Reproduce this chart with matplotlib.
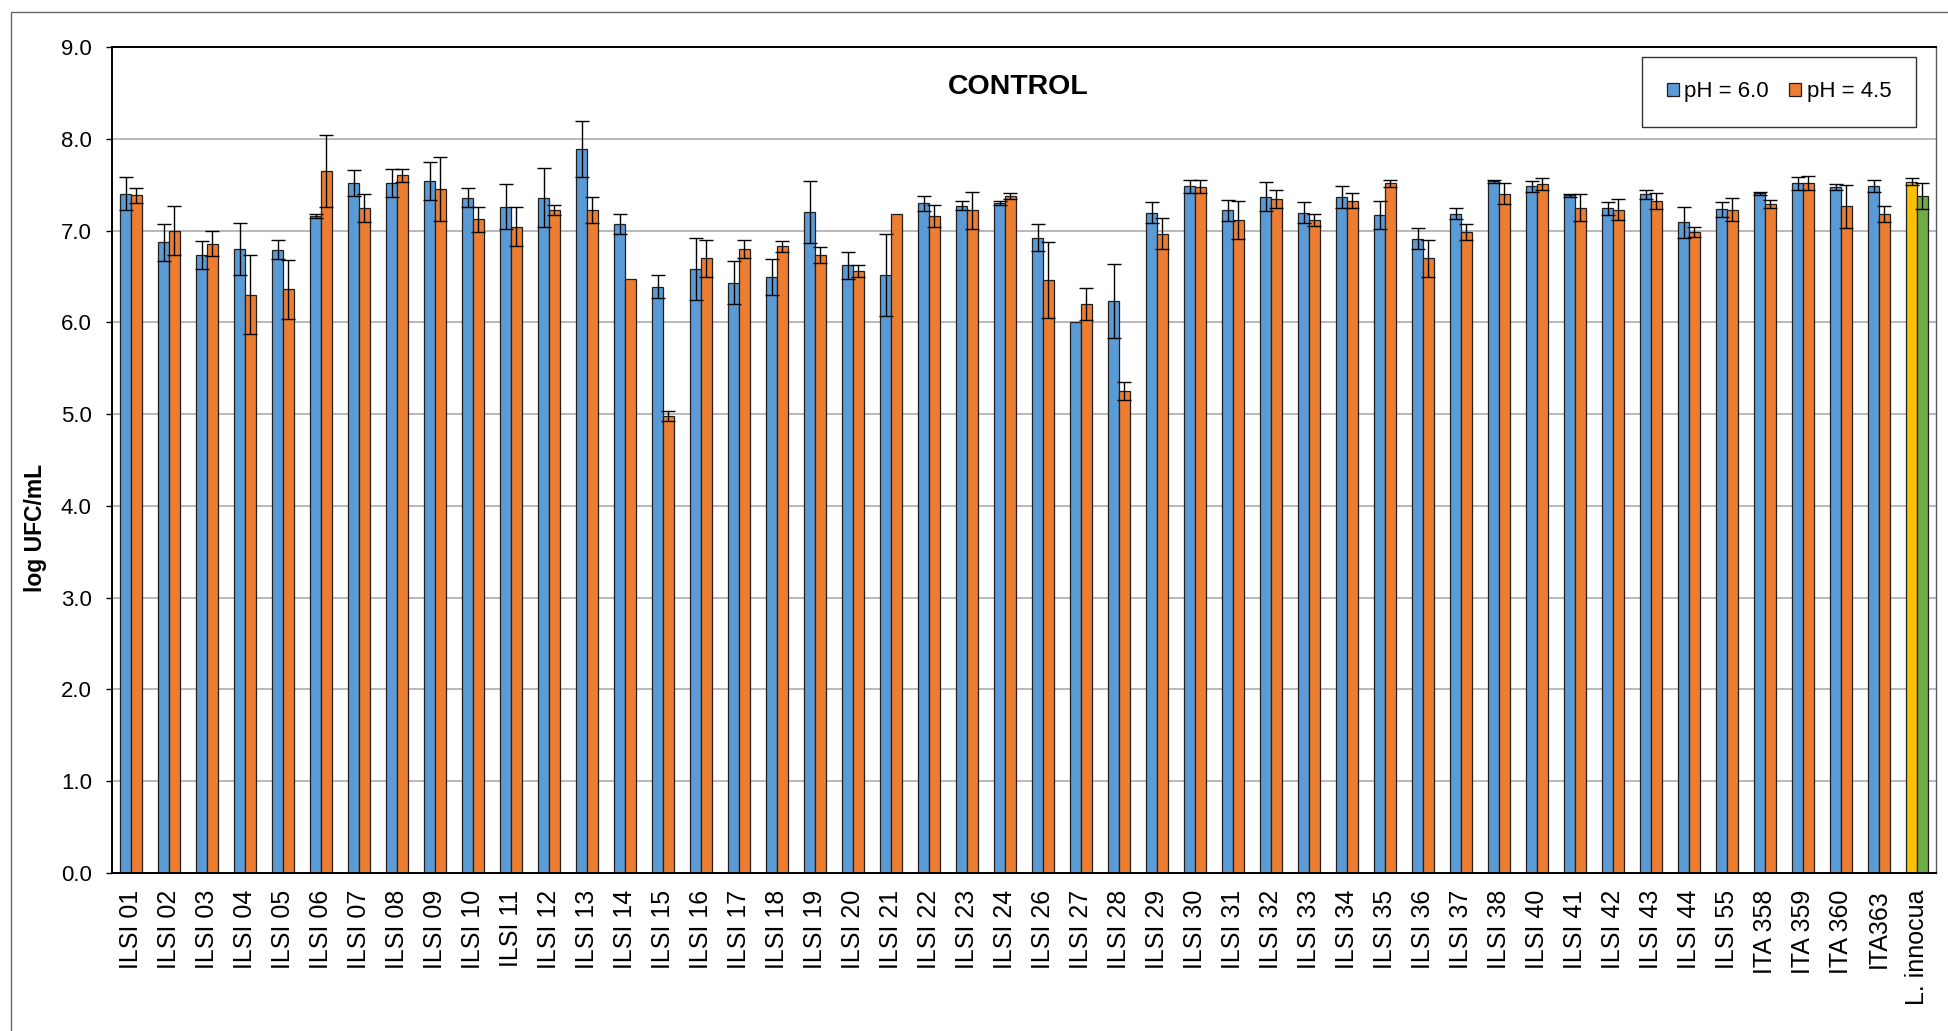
import matplotlib
matplotlib.use("Agg")
import matplotlib.pyplot as plt
from matplotlib.patches import Rectangle
import numpy as np

plt.rcParams["font.family"] = ["Liberation Sans", "DejaVu Sans"]

# ── data ──────────────────────────────────────────────────────────────────────
strains = (
    [f"ILSI {i:02d}" for i in range(1, 25)]
    + [f"ILSI {i}" for i in range(26, 39)]
    + [f"ILSI {i}" for i in range(40, 45)]
    + ["ILSI 55", "ITA 358", "ITA 359", "ITA 360", "ITA363", "L. innocua"]
)

ph60 = [7.40, 6.87, 6.735, 6.80, 6.79, 7.16, 7.516, 7.52, 7.538, 7.36,
        7.262, 7.36, 7.887, 7.069, 6.389, 6.578, 6.433, 6.495, 7.20, 6.62,
        6.52, 7.298, 7.269, 7.30, 6.924, 6.00, 6.233, 7.196, 7.484, 7.222,
        7.371, 7.196, 7.367, 7.171, 6.913, 7.185, 7.535, 7.484, 7.382, 7.244,
        7.396, 7.09, 7.233, 7.407, 7.516, 7.473, 7.484, 7.531]
ph60_err = [0.18, 0.20, 0.155, 0.28, 0.105, 0.025, 0.14, 0.15, 0.21, 0.10,
            0.24, 0.32, 0.305, 0.11, 0.127, 0.34, 0.23, 0.20, 0.338, 0.15,
            0.447, 0.08, 0.05, 0.025, 0.15, 0.0, 0.407, 0.11, 0.07, 0.116,
            0.156, 0.11, 0.117, 0.15, 0.113, 0.062, 0.02, 0.06, 0.018, 0.07,
            0.047, 0.17, 0.08, 0.018, 0.07, 0.036, 0.065, 0.04]

ph45 = [7.385, 7.00, 6.855, 6.30, 6.36, 7.647, 7.244, 7.60, 7.45, 7.124,
        7.044, 7.222, 7.225, 6.476, 4.98, 6.698, 6.796, 6.829, 6.731, 6.56,
        7.178, 7.156, 7.222, 7.375, 6.462, 6.20, 5.255, 6.967, 7.476, 7.113,
        7.345, 7.113, 7.324, 7.516, 6.698, 6.98, 7.40, 7.505, 7.25, 7.229,
        7.32, 6.98, 7.229, 7.29, 7.516, 7.265, 7.18, 7.375]
ph45_err = [0.08, 0.27, 0.135, 0.43, 0.32, 0.39, 0.156, 0.07, 0.35, 0.138,
            0.21, 0.055, 0.14, 0.0, 0.055, 0.20, 0.10, 0.06, 0.087, 0.07,
            0.0, 0.12, 0.20, 0.03, 0.41, 0.175, 0.10, 0.167, 0.07, 0.21,
            0.10, 0.065, 0.08, 0.04, 0.20, 0.087, 0.116, 0.066, 0.146, 0.116,
            0.084, 0.055, 0.13, 0.047, 0.076, 0.233, 0.09, 0.14]

series_names = ["pH = 6.0", "pH = 4.5"]

# ── style ─────────────────────────────────────────────────────────────────────
BLUE, ORANGE = "#5B9BD5", "#ED7D31"
YELLOW, GREEN = "#FFC000", "#70AD47"
EDGE = "#1f1f1f"

n = len(strains)
x = np.arange(n)
w = 0.28

# the reference strain gets its own colours
c60 = [BLUE] * (n - 1) + [YELLOW]
c45 = [ORANGE] * (n - 1) + [GREEN]

fig = plt.figure(figsize=(19.48, 10.31), dpi=100)
ax = fig.add_axes([112 / 1948, 1 - 873 / 1031, 1824 / 1948, 826 / 1031])

# outer chart frame
fig.patches.append(Rectangle((11 / 1948, -0.01), 1.0, 1 - 12 / 1031 + 0.01,
                             transform=fig.transFigure, fill=False,
                             edgecolor="#666666", linewidth=1.0))

b1 = ax.bar(x - w / 2, ph60, w, color=c60, edgecolor=EDGE, linewidth=0.9,
            zorder=2, label=series_names[0])
b2 = ax.bar(x + w / 2, ph45, w, color=c45, edgecolor=EDGE, linewidth=0.9,
            zorder=2, label=series_names[1])

for off, vals, errs in [(-w / 2, ph60, ph60_err), (w / 2, ph45, ph45_err)]:
    vals = np.array(vals)
    errs = np.array(errs)
    m = errs > 0
    ax.errorbar(x[m] + off, vals[m], yerr=errs[m], fmt="none", ecolor="black",
                elinewidth=1.0, capsize=5.0, capthick=1.0, zorder=3)

ax.set_xlim(-0.5, n - 0.5)
ax.set_ylim(0, 9)
ax.set_yticks(np.arange(0, 9.1, 1.0))
ax.set_yticklabels([f"{v:.1f}" for v in np.arange(0, 9.1, 1.0)], fontsize=16)
ax.set_xticks(x)
ax.set_xticklabels(strains, rotation=90, fontsize=18)
ax.tick_params(axis="x", length=0, pad=12)
ax.tick_params(axis="y", length=4.5, width=1.0, pad=10, direction="out")

ax.grid(True, axis="y", color="#b3b3b3", linewidth=1.3, zorder=0)
ax.set_axisbelow(True)
for side in ["left", "top", "bottom"]:
    ax.spines[side].set_color("black")
    ax.spines[side].set_linewidth(1.4)
ax.spines["right"].set_color("#595959")
ax.spines["right"].set_linewidth(1.0)

ax.set_ylabel("log UFC/mL", fontsize=16.5, fontweight="bold")
ax.yaxis.set_label_coords(-0.0355, 0.418)

ax.text(0.4966, 0.952, "CONTROL", transform=ax.transAxes, ha="center",
        va="center", fontsize=20.5, fontweight="bold")

leg = ax.legend(handles=[b1, b2], loc="upper right",
                bbox_to_anchor=(0.989, 0.988), ncol=2, fontsize=16,
                frameon=True, fancybox=False, handlelength=0.55,
                handleheight=0.55, handletextpad=0.25, columnspacing=0.9,
                borderpad=1.1, borderaxespad=0)
leg.get_frame().set_edgecolor("black")
leg.get_frame().set_linewidth(1.0)
leg.legend_handles[0].set_facecolor(BLUE)
leg.legend_handles[1].set_facecolor(ORANGE)

fig.savefig("out.png", dpi=100)
